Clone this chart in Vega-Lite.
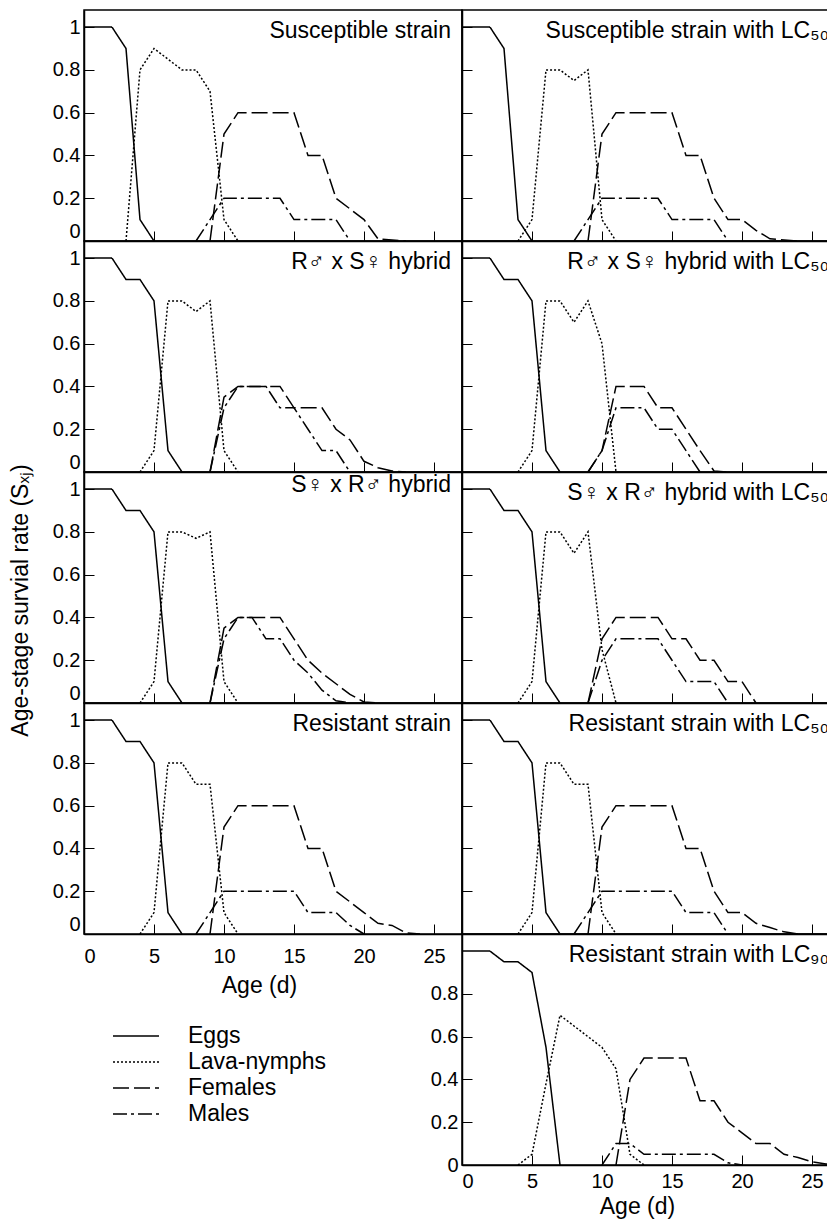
{
  "$schema": "https://vega.github.io/schema/vega-lite/v6.json",
  "padding": {"left": 8, "top": 9, "right": 0, "bottom": 0},
  "config": {
    "font": "Liberation Sans",
    "view": {"stroke": "black", "strokeWidth": 1.5},
    "axis": {"grid": false, "domainColor": "black", "domainWidth": 1.5, "tickColor": "black", "tickWidth": 1, "tickSize": -10, "labelColor": "black", "labelFontSize": 20, "labelFont": "Liberation Sans", "titleFont": "Liberation Sans", "titleFontSize": 23, "titleFontWeight": "normal", "titleColor": "black"},
    "title": {"anchor": "end", "frame": "group", "orient": "top", "fontSize": 23, "fontWeight": "normal", "color": "black", "baseline": "alphabetic", "offset": -33, "dx": -11, "font": "Liberation Sans"},
    "line": {"strokeWidth": 1.5, "color": "black"}
  },
  "datasets": {
    "d": [
      {"panel":1,"stage":"Eggs","age":0,"rate":1},{"panel":1,"stage":"Eggs","age":1,"rate":1},{"panel":1,"stage":"Eggs","age":2,"rate":1},{"panel":1,"stage":"Eggs","age":3,"rate":0.9},{"panel":1,"stage":"Eggs","age":4,"rate":0.1},{"panel":1,"stage":"Eggs","age":5,"rate":0},
      {"panel":1,"stage":"Lava-nymphs","age":3,"rate":0},{"panel":1,"stage":"Lava-nymphs","age":4,"rate":0.8},{"panel":1,"stage":"Lava-nymphs","age":5,"rate":0.9},{"panel":1,"stage":"Lava-nymphs","age":6,"rate":0.85},{"panel":1,"stage":"Lava-nymphs","age":7,"rate":0.8},{"panel":1,"stage":"Lava-nymphs","age":8,"rate":0.8},{"panel":1,"stage":"Lava-nymphs","age":9,"rate":0.7},{"panel":1,"stage":"Lava-nymphs","age":10,"rate":0.1},{"panel":1,"stage":"Lava-nymphs","age":11,"rate":0},
      {"panel":1,"stage":"Females","age":9,"rate":0},{"panel":1,"stage":"Females","age":10,"rate":0.5},{"panel":1,"stage":"Females","age":11,"rate":0.6},{"panel":1,"stage":"Females","age":12,"rate":0.6},{"panel":1,"stage":"Females","age":13,"rate":0.6},{"panel":1,"stage":"Females","age":14,"rate":0.6},{"panel":1,"stage":"Females","age":15,"rate":0.6},{"panel":1,"stage":"Females","age":16,"rate":0.4},{"panel":1,"stage":"Females","age":17,"rate":0.4},{"panel":1,"stage":"Females","age":18,"rate":0.2},{"panel":1,"stage":"Females","age":19,"rate":0.15},{"panel":1,"stage":"Females","age":20,"rate":0.1},{"panel":1,"stage":"Females","age":21,"rate":0.01},{"panel":1,"stage":"Females","age":22,"rate":0.005},{"panel":1,"stage":"Females","age":23,"rate":0},
      {"panel":1,"stage":"Males","age":8,"rate":0},{"panel":1,"stage":"Males","age":9,"rate":0.1},{"panel":1,"stage":"Males","age":10,"rate":0.2},{"panel":1,"stage":"Males","age":11,"rate":0.2},{"panel":1,"stage":"Males","age":12,"rate":0.2},{"panel":1,"stage":"Males","age":13,"rate":0.2},{"panel":1,"stage":"Males","age":14,"rate":0.2},{"panel":1,"stage":"Males","age":15,"rate":0.1},{"panel":1,"stage":"Males","age":16,"rate":0.1},{"panel":1,"stage":"Males","age":17,"rate":0.1},{"panel":1,"stage":"Males","age":18,"rate":0.1},{"panel":1,"stage":"Males","age":19,"rate":0},

      {"panel":2,"stage":"Eggs","age":0,"rate":1},{"panel":2,"stage":"Eggs","age":1,"rate":1},{"panel":2,"stage":"Eggs","age":2,"rate":1},{"panel":2,"stage":"Eggs","age":3,"rate":0.9},{"panel":2,"stage":"Eggs","age":4,"rate":0.1},{"panel":2,"stage":"Eggs","age":5,"rate":0},
      {"panel":2,"stage":"Lava-nymphs","age":4,"rate":0},{"panel":2,"stage":"Lava-nymphs","age":5,"rate":0.1},{"panel":2,"stage":"Lava-nymphs","age":6,"rate":0.8},{"panel":2,"stage":"Lava-nymphs","age":7,"rate":0.8},{"panel":2,"stage":"Lava-nymphs","age":8,"rate":0.75},{"panel":2,"stage":"Lava-nymphs","age":9,"rate":0.8},{"panel":2,"stage":"Lava-nymphs","age":10,"rate":0.1},{"panel":2,"stage":"Lava-nymphs","age":11,"rate":0},
      {"panel":2,"stage":"Females","age":9,"rate":0},{"panel":2,"stage":"Females","age":10,"rate":0.5},{"panel":2,"stage":"Females","age":11,"rate":0.6},{"panel":2,"stage":"Females","age":12,"rate":0.6},{"panel":2,"stage":"Females","age":13,"rate":0.6},{"panel":2,"stage":"Females","age":14,"rate":0.6},{"panel":2,"stage":"Females","age":15,"rate":0.6},{"panel":2,"stage":"Females","age":16,"rate":0.4},{"panel":2,"stage":"Females","age":17,"rate":0.4},{"panel":2,"stage":"Females","age":18,"rate":0.2},{"panel":2,"stage":"Females","age":19,"rate":0.1},{"panel":2,"stage":"Females","age":20,"rate":0.1},{"panel":2,"stage":"Females","age":21,"rate":0.05},{"panel":2,"stage":"Females","age":22,"rate":0.01},{"panel":2,"stage":"Females","age":23,"rate":0.005},{"panel":2,"stage":"Females","age":24,"rate":0},
      {"panel":2,"stage":"Males","age":8,"rate":0},{"panel":2,"stage":"Males","age":9,"rate":0.1},{"panel":2,"stage":"Males","age":10,"rate":0.2},{"panel":2,"stage":"Males","age":11,"rate":0.2},{"panel":2,"stage":"Males","age":12,"rate":0.2},{"panel":2,"stage":"Males","age":13,"rate":0.2},{"panel":2,"stage":"Males","age":14,"rate":0.2},{"panel":2,"stage":"Males","age":15,"rate":0.1},{"panel":2,"stage":"Males","age":16,"rate":0.1},{"panel":2,"stage":"Males","age":17,"rate":0.1},{"panel":2,"stage":"Males","age":18,"rate":0.1},{"panel":2,"stage":"Males","age":19,"rate":0},

      {"panel":3,"stage":"Eggs","age":0,"rate":1},{"panel":3,"stage":"Eggs","age":1,"rate":1},{"panel":3,"stage":"Eggs","age":2,"rate":1},{"panel":3,"stage":"Eggs","age":3,"rate":0.9},{"panel":3,"stage":"Eggs","age":4,"rate":0.9},{"panel":3,"stage":"Eggs","age":5,"rate":0.8},{"panel":3,"stage":"Eggs","age":6,"rate":0.1},{"panel":3,"stage":"Eggs","age":7,"rate":0},
      {"panel":3,"stage":"Lava-nymphs","age":4,"rate":0},{"panel":3,"stage":"Lava-nymphs","age":5,"rate":0.1},{"panel":3,"stage":"Lava-nymphs","age":6,"rate":0.8},{"panel":3,"stage":"Lava-nymphs","age":7,"rate":0.8},{"panel":3,"stage":"Lava-nymphs","age":8,"rate":0.75},{"panel":3,"stage":"Lava-nymphs","age":9,"rate":0.8},{"panel":3,"stage":"Lava-nymphs","age":10,"rate":0.1},{"panel":3,"stage":"Lava-nymphs","age":11,"rate":0},
      {"panel":3,"stage":"Females","age":9,"rate":0},{"panel":3,"stage":"Females","age":10,"rate":0.35},{"panel":3,"stage":"Females","age":11,"rate":0.4},{"panel":3,"stage":"Females","age":12,"rate":0.4},{"panel":3,"stage":"Females","age":13,"rate":0.4},{"panel":3,"stage":"Females","age":14,"rate":0.4},{"panel":3,"stage":"Females","age":15,"rate":0.3},{"panel":3,"stage":"Females","age":16,"rate":0.3},{"panel":3,"stage":"Females","age":17,"rate":0.3},{"panel":3,"stage":"Females","age":18,"rate":0.2},{"panel":3,"stage":"Females","age":19,"rate":0.15},{"panel":3,"stage":"Females","age":20,"rate":0.05},{"panel":3,"stage":"Females","age":21,"rate":0.02},{"panel":3,"stage":"Females","age":22,"rate":0.005},{"panel":3,"stage":"Females","age":23,"rate":0},
      {"panel":3,"stage":"Males","age":9,"rate":0},{"panel":3,"stage":"Males","age":10,"rate":0.3},{"panel":3,"stage":"Males","age":11,"rate":0.4},{"panel":3,"stage":"Males","age":12,"rate":0.4},{"panel":3,"stage":"Males","age":13,"rate":0.4},{"panel":3,"stage":"Males","age":14,"rate":0.3},{"panel":3,"stage":"Males","age":15,"rate":0.3},{"panel":3,"stage":"Males","age":16,"rate":0.2},{"panel":3,"stage":"Males","age":17,"rate":0.1},{"panel":3,"stage":"Males","age":18,"rate":0.1},{"panel":3,"stage":"Males","age":19,"rate":0},

      {"panel":4,"stage":"Eggs","age":0,"rate":1},{"panel":4,"stage":"Eggs","age":1,"rate":1},{"panel":4,"stage":"Eggs","age":2,"rate":1},{"panel":4,"stage":"Eggs","age":3,"rate":0.9},{"panel":4,"stage":"Eggs","age":4,"rate":0.9},{"panel":4,"stage":"Eggs","age":5,"rate":0.8},{"panel":4,"stage":"Eggs","age":6,"rate":0.1},{"panel":4,"stage":"Eggs","age":7,"rate":0},
      {"panel":4,"stage":"Lava-nymphs","age":4,"rate":0},{"panel":4,"stage":"Lava-nymphs","age":5,"rate":0.1},{"panel":4,"stage":"Lava-nymphs","age":6,"rate":0.8},{"panel":4,"stage":"Lava-nymphs","age":7,"rate":0.8},{"panel":4,"stage":"Lava-nymphs","age":8,"rate":0.7},{"panel":4,"stage":"Lava-nymphs","age":9,"rate":0.8},{"panel":4,"stage":"Lava-nymphs","age":10,"rate":0.6},{"panel":4,"stage":"Lava-nymphs","age":11,"rate":0},
      {"panel":4,"stage":"Females","age":9,"rate":0},{"panel":4,"stage":"Females","age":10,"rate":0.1},{"panel":4,"stage":"Females","age":11,"rate":0.4},{"panel":4,"stage":"Females","age":12,"rate":0.4},{"panel":4,"stage":"Females","age":13,"rate":0.4},{"panel":4,"stage":"Females","age":14,"rate":0.3},{"panel":4,"stage":"Females","age":15,"rate":0.3},{"panel":4,"stage":"Females","age":16,"rate":0.2},{"panel":4,"stage":"Females","age":17,"rate":0.1},{"panel":4,"stage":"Females","age":18,"rate":0.005},{"panel":4,"stage":"Females","age":19,"rate":0},
      {"panel":4,"stage":"Males","age":9,"rate":0},{"panel":4,"stage":"Males","age":10,"rate":0.1},{"panel":4,"stage":"Males","age":11,"rate":0.3},{"panel":4,"stage":"Males","age":12,"rate":0.3},{"panel":4,"stage":"Males","age":13,"rate":0.3},{"panel":4,"stage":"Males","age":14,"rate":0.2},{"panel":4,"stage":"Males","age":15,"rate":0.2},{"panel":4,"stage":"Males","age":16,"rate":0.1},{"panel":4,"stage":"Males","age":17,"rate":0},

      {"panel":5,"stage":"Eggs","age":0,"rate":1},{"panel":5,"stage":"Eggs","age":1,"rate":1},{"panel":5,"stage":"Eggs","age":2,"rate":1},{"panel":5,"stage":"Eggs","age":3,"rate":0.9},{"panel":5,"stage":"Eggs","age":4,"rate":0.9},{"panel":5,"stage":"Eggs","age":5,"rate":0.8},{"panel":5,"stage":"Eggs","age":6,"rate":0.1},{"panel":5,"stage":"Eggs","age":7,"rate":0},
      {"panel":5,"stage":"Lava-nymphs","age":4,"rate":0},{"panel":5,"stage":"Lava-nymphs","age":5,"rate":0.1},{"panel":5,"stage":"Lava-nymphs","age":6,"rate":0.8},{"panel":5,"stage":"Lava-nymphs","age":7,"rate":0.8},{"panel":5,"stage":"Lava-nymphs","age":8,"rate":0.77},{"panel":5,"stage":"Lava-nymphs","age":9,"rate":0.8},{"panel":5,"stage":"Lava-nymphs","age":10,"rate":0.1},{"panel":5,"stage":"Lava-nymphs","age":11,"rate":0},
      {"panel":5,"stage":"Females","age":9,"rate":0},{"panel":5,"stage":"Females","age":10,"rate":0.35},{"panel":5,"stage":"Females","age":11,"rate":0.4},{"panel":5,"stage":"Females","age":12,"rate":0.4},{"panel":5,"stage":"Females","age":13,"rate":0.4},{"panel":5,"stage":"Females","age":14,"rate":0.4},{"panel":5,"stage":"Females","age":15,"rate":0.3},{"panel":5,"stage":"Females","age":16,"rate":0.2},{"panel":5,"stage":"Females","age":17,"rate":0.14},{"panel":5,"stage":"Females","age":18,"rate":0.09},{"panel":5,"stage":"Females","age":19,"rate":0.04},{"panel":5,"stage":"Females","age":20,"rate":0.005},{"panel":5,"stage":"Females","age":21,"rate":0},
      {"panel":5,"stage":"Males","age":9,"rate":0},{"panel":5,"stage":"Males","age":10,"rate":0.3},{"panel":5,"stage":"Males","age":11,"rate":0.4},{"panel":5,"stage":"Males","age":12,"rate":0.4},{"panel":5,"stage":"Males","age":13,"rate":0.3},{"panel":5,"stage":"Males","age":14,"rate":0.3},{"panel":5,"stage":"Males","age":15,"rate":0.2},{"panel":5,"stage":"Males","age":16,"rate":0.14},{"panel":5,"stage":"Males","age":17,"rate":0.06},{"panel":5,"stage":"Males","age":18,"rate":0.01},{"panel":5,"stage":"Males","age":19,"rate":0},

      {"panel":6,"stage":"Eggs","age":0,"rate":1},{"panel":6,"stage":"Eggs","age":1,"rate":1},{"panel":6,"stage":"Eggs","age":2,"rate":1},{"panel":6,"stage":"Eggs","age":3,"rate":0.9},{"panel":6,"stage":"Eggs","age":4,"rate":0.9},{"panel":6,"stage":"Eggs","age":5,"rate":0.8},{"panel":6,"stage":"Eggs","age":6,"rate":0.1},{"panel":6,"stage":"Eggs","age":7,"rate":0},
      {"panel":6,"stage":"Lava-nymphs","age":4,"rate":0},{"panel":6,"stage":"Lava-nymphs","age":5,"rate":0.1},{"panel":6,"stage":"Lava-nymphs","age":6,"rate":0.8},{"panel":6,"stage":"Lava-nymphs","age":7,"rate":0.8},{"panel":6,"stage":"Lava-nymphs","age":8,"rate":0.7},{"panel":6,"stage":"Lava-nymphs","age":9,"rate":0.8},{"panel":6,"stage":"Lava-nymphs","age":10,"rate":0.25},{"panel":6,"stage":"Lava-nymphs","age":11,"rate":0},
      {"panel":6,"stage":"Females","age":9,"rate":0},{"panel":6,"stage":"Females","age":10,"rate":0.3},{"panel":6,"stage":"Females","age":11,"rate":0.4},{"panel":6,"stage":"Females","age":12,"rate":0.4},{"panel":6,"stage":"Females","age":13,"rate":0.4},{"panel":6,"stage":"Females","age":14,"rate":0.4},{"panel":6,"stage":"Females","age":15,"rate":0.3},{"panel":6,"stage":"Females","age":16,"rate":0.3},{"panel":6,"stage":"Females","age":17,"rate":0.2},{"panel":6,"stage":"Females","age":18,"rate":0.2},{"panel":6,"stage":"Females","age":19,"rate":0.1},{"panel":6,"stage":"Females","age":20,"rate":0.1},{"panel":6,"stage":"Females","age":21,"rate":0},
      {"panel":6,"stage":"Males","age":9,"rate":0},{"panel":6,"stage":"Males","age":10,"rate":0.2},{"panel":6,"stage":"Males","age":11,"rate":0.3},{"panel":6,"stage":"Males","age":12,"rate":0.3},{"panel":6,"stage":"Males","age":13,"rate":0.3},{"panel":6,"stage":"Males","age":14,"rate":0.3},{"panel":6,"stage":"Males","age":15,"rate":0.2},{"panel":6,"stage":"Males","age":16,"rate":0.1},{"panel":6,"stage":"Males","age":17,"rate":0.1},{"panel":6,"stage":"Males","age":18,"rate":0.1},{"panel":6,"stage":"Males","age":19,"rate":0},

      {"panel":7,"stage":"Eggs","age":0,"rate":1},{"panel":7,"stage":"Eggs","age":1,"rate":1},{"panel":7,"stage":"Eggs","age":2,"rate":1},{"panel":7,"stage":"Eggs","age":3,"rate":0.9},{"panel":7,"stage":"Eggs","age":4,"rate":0.9},{"panel":7,"stage":"Eggs","age":5,"rate":0.8},{"panel":7,"stage":"Eggs","age":6,"rate":0.1},{"panel":7,"stage":"Eggs","age":7,"rate":0},
      {"panel":7,"stage":"Lava-nymphs","age":4,"rate":0},{"panel":7,"stage":"Lava-nymphs","age":5,"rate":0.1},{"panel":7,"stage":"Lava-nymphs","age":6,"rate":0.8},{"panel":7,"stage":"Lava-nymphs","age":7,"rate":0.8},{"panel":7,"stage":"Lava-nymphs","age":8,"rate":0.7},{"panel":7,"stage":"Lava-nymphs","age":9,"rate":0.7},{"panel":7,"stage":"Lava-nymphs","age":10,"rate":0.1},{"panel":7,"stage":"Lava-nymphs","age":11,"rate":0},
      {"panel":7,"stage":"Females","age":9,"rate":0},{"panel":7,"stage":"Females","age":10,"rate":0.5},{"panel":7,"stage":"Females","age":11,"rate":0.6},{"panel":7,"stage":"Females","age":12,"rate":0.6},{"panel":7,"stage":"Females","age":13,"rate":0.6},{"panel":7,"stage":"Females","age":14,"rate":0.6},{"panel":7,"stage":"Females","age":15,"rate":0.6},{"panel":7,"stage":"Females","age":16,"rate":0.4},{"panel":7,"stage":"Females","age":17,"rate":0.4},{"panel":7,"stage":"Females","age":18,"rate":0.2},{"panel":7,"stage":"Females","age":19,"rate":0.15},{"panel":7,"stage":"Females","age":20,"rate":0.1},{"panel":7,"stage":"Females","age":21,"rate":0.05},{"panel":7,"stage":"Females","age":22,"rate":0.04},{"panel":7,"stage":"Females","age":23,"rate":0.005},{"panel":7,"stage":"Females","age":24,"rate":0},
      {"panel":7,"stage":"Males","age":8,"rate":0},{"panel":7,"stage":"Males","age":9,"rate":0.1},{"panel":7,"stage":"Males","age":10,"rate":0.2},{"panel":7,"stage":"Males","age":11,"rate":0.2},{"panel":7,"stage":"Males","age":12,"rate":0.2},{"panel":7,"stage":"Males","age":13,"rate":0.2},{"panel":7,"stage":"Males","age":14,"rate":0.2},{"panel":7,"stage":"Males","age":15,"rate":0.2},{"panel":7,"stage":"Males","age":16,"rate":0.1},{"panel":7,"stage":"Males","age":17,"rate":0.1},{"panel":7,"stage":"Males","age":18,"rate":0.1},{"panel":7,"stage":"Males","age":19,"rate":0.04},{"panel":7,"stage":"Males","age":20,"rate":0},

      {"panel":8,"stage":"Eggs","age":0,"rate":1},{"panel":8,"stage":"Eggs","age":1,"rate":1},{"panel":8,"stage":"Eggs","age":2,"rate":1},{"panel":8,"stage":"Eggs","age":3,"rate":0.9},{"panel":8,"stage":"Eggs","age":4,"rate":0.9},{"panel":8,"stage":"Eggs","age":5,"rate":0.8},{"panel":8,"stage":"Eggs","age":6,"rate":0.1},{"panel":8,"stage":"Eggs","age":7,"rate":0},
      {"panel":8,"stage":"Lava-nymphs","age":4,"rate":0},{"panel":8,"stage":"Lava-nymphs","age":5,"rate":0.1},{"panel":8,"stage":"Lava-nymphs","age":6,"rate":0.8},{"panel":8,"stage":"Lava-nymphs","age":7,"rate":0.8},{"panel":8,"stage":"Lava-nymphs","age":8,"rate":0.7},{"panel":8,"stage":"Lava-nymphs","age":9,"rate":0.7},{"panel":8,"stage":"Lava-nymphs","age":10,"rate":0.1},{"panel":8,"stage":"Lava-nymphs","age":11,"rate":0},
      {"panel":8,"stage":"Females","age":9,"rate":0},{"panel":8,"stage":"Females","age":10,"rate":0.5},{"panel":8,"stage":"Females","age":11,"rate":0.6},{"panel":8,"stage":"Females","age":12,"rate":0.6},{"panel":8,"stage":"Females","age":13,"rate":0.6},{"panel":8,"stage":"Females","age":14,"rate":0.6},{"panel":8,"stage":"Females","age":15,"rate":0.6},{"panel":8,"stage":"Females","age":16,"rate":0.4},{"panel":8,"stage":"Females","age":17,"rate":0.4},{"panel":8,"stage":"Females","age":18,"rate":0.2},{"panel":8,"stage":"Females","age":19,"rate":0.1},{"panel":8,"stage":"Females","age":20,"rate":0.1},{"panel":8,"stage":"Females","age":21,"rate":0.05},{"panel":8,"stage":"Females","age":22,"rate":0.03},{"panel":8,"stage":"Females","age":23,"rate":0.01},{"panel":8,"stage":"Females","age":24,"rate":0},
      {"panel":8,"stage":"Males","age":8,"rate":0},{"panel":8,"stage":"Males","age":9,"rate":0.1},{"panel":8,"stage":"Males","age":10,"rate":0.2},{"panel":8,"stage":"Males","age":11,"rate":0.2},{"panel":8,"stage":"Males","age":12,"rate":0.2},{"panel":8,"stage":"Males","age":13,"rate":0.2},{"panel":8,"stage":"Males","age":14,"rate":0.2},{"panel":8,"stage":"Males","age":15,"rate":0.2},{"panel":8,"stage":"Males","age":16,"rate":0.1},{"panel":8,"stage":"Males","age":17,"rate":0.1},{"panel":8,"stage":"Males","age":18,"rate":0.1},{"panel":8,"stage":"Males","age":19,"rate":0},

      {"panel":9,"stage":"Eggs","age":0,"rate":1},{"panel":9,"stage":"Eggs","age":1,"rate":1},{"panel":9,"stage":"Eggs","age":2,"rate":1},{"panel":9,"stage":"Eggs","age":3,"rate":0.95},{"panel":9,"stage":"Eggs","age":4,"rate":0.95},{"panel":9,"stage":"Eggs","age":5,"rate":0.9},{"panel":9,"stage":"Eggs","age":6,"rate":0.55},{"panel":9,"stage":"Eggs","age":7,"rate":0},
      {"panel":9,"stage":"Lava-nymphs","age":4,"rate":0},{"panel":9,"stage":"Lava-nymphs","age":5,"rate":0.05},{"panel":9,"stage":"Lava-nymphs","age":6,"rate":0.38},{"panel":9,"stage":"Lava-nymphs","age":7,"rate":0.7},{"panel":9,"stage":"Lava-nymphs","age":8,"rate":0.65},{"panel":9,"stage":"Lava-nymphs","age":9,"rate":0.6},{"panel":9,"stage":"Lava-nymphs","age":10,"rate":0.55},{"panel":9,"stage":"Lava-nymphs","age":11,"rate":0.45},{"panel":9,"stage":"Lava-nymphs","age":12,"rate":0.05},{"panel":9,"stage":"Lava-nymphs","age":13,"rate":0},
      {"panel":9,"stage":"Females","age":11,"rate":0},{"panel":9,"stage":"Females","age":12,"rate":0.4},{"panel":9,"stage":"Females","age":13,"rate":0.5},{"panel":9,"stage":"Females","age":14,"rate":0.5},{"panel":9,"stage":"Females","age":15,"rate":0.5},{"panel":9,"stage":"Females","age":16,"rate":0.5},{"panel":9,"stage":"Females","age":17,"rate":0.3},{"panel":9,"stage":"Females","age":18,"rate":0.3},{"panel":9,"stage":"Females","age":19,"rate":0.2},{"panel":9,"stage":"Females","age":20,"rate":0.15},{"panel":9,"stage":"Females","age":21,"rate":0.1},{"panel":9,"stage":"Females","age":22,"rate":0.1},{"panel":9,"stage":"Females","age":23,"rate":0.05},{"panel":9,"stage":"Females","age":24,"rate":0.035},{"panel":9,"stage":"Females","age":25,"rate":0.015},{"panel":9,"stage":"Females","age":26,"rate":0.005},{"panel":9,"stage":"Females","age":27,"rate":0},
      {"panel":9,"stage":"Males","age":10,"rate":0},{"panel":9,"stage":"Males","age":11,"rate":0.1},{"panel":9,"stage":"Males","age":12,"rate":0.1},{"panel":9,"stage":"Males","age":13,"rate":0.05},{"panel":9,"stage":"Males","age":14,"rate":0.05},{"panel":9,"stage":"Males","age":15,"rate":0.05},{"panel":9,"stage":"Males","age":16,"rate":0.05},{"panel":9,"stage":"Males","age":17,"rate":0.05},{"panel":9,"stage":"Males","age":18,"rate":0.05},{"panel":9,"stage":"Males","age":19,"rate":0.01},{"panel":9,"stage":"Males","age":20,"rate":0}
    ]
  },
  "columns": 2,
  "spacing": 0,
  "bounds": "flush",
  "resolve": {"scale": {"strokeDash": "independent"}, "legend": {"strokeDash": "independent"}},
  "concat": [
    {
      "width": 378, "height": 231, "title": "Susceptible strain",
      "data": {"name": "d"}, "transform": [{"filter": "datum.panel == 1"}],
      "mark": "line",
      "encoding": {
        "x": {"field": "age", "type": "quantitative", "scale": {"domain": [0, 27], "nice": false, "zero": false}, "axis": {"values": [0, 5, 10, 15, 20, 25], "labels": false, "title": null}},
        "y": {"field": "rate", "type": "quantitative", "scale": {"domain": [0, 1.08], "nice": false}, "axis": {"values": [0, 0.2, 0.4, 0.6, 0.8, 1], "format": "~g", "labelFlush": true, "labelPadding": 14, "title": null}},
        "strokeDash": {"field": "stage", "type": "nominal", "scale": {"domain": ["Eggs", "Lava-nymphs", "Females", "Males"], "range": [[1, 0], [2, 2], [16, 5], [14, 4, 3, 4]]}, "legend": null}
      }
    },
    {
      "width": 378, "height": 231, "title": "Susceptible strain with LC₅₀",
      "data": {"name": "d"}, "transform": [{"filter": "datum.panel == 2"}],
      "mark": "line",
      "encoding": {
        "x": {"field": "age", "type": "quantitative", "scale": {"domain": [0, 27], "nice": false, "zero": false}, "axis": {"values": [0, 5, 10, 15, 20, 25], "labels": false, "title": null}},
        "y": {"field": "rate", "type": "quantitative", "scale": {"domain": [0, 1.08], "nice": false}, "axis": {"values": [0.2, 0.4, 0.6, 0.8, 1], "labels": false, "title": null}},
        "strokeDash": {"field": "stage", "type": "nominal", "scale": {"domain": ["Eggs", "Lava-nymphs", "Females", "Males"], "range": [[1, 0], [2, 2], [16, 5], [14, 4, 3, 4]]}, "legend": null}
      }
    },
    {
      "width": 378, "height": 231, "title": "R♂ x S♀ hybrid",
      "data": {"name": "d"}, "transform": [{"filter": "datum.panel == 3"}],
      "mark": "line",
      "encoding": {
        "x": {"field": "age", "type": "quantitative", "scale": {"domain": [0, 27], "nice": false, "zero": false}, "axis": {"values": [0, 5, 10, 15, 20, 25], "labels": false, "title": null}},
        "y": {"field": "rate", "type": "quantitative", "scale": {"domain": [0, 1.08], "nice": false}, "axis": {"values": [0, 0.2, 0.4, 0.6, 0.8, 1], "format": "~g", "labelFlush": true, "labelPadding": 14, "title": null}},
        "strokeDash": {"field": "stage", "type": "nominal", "scale": {"domain": ["Eggs", "Lava-nymphs", "Females", "Males"], "range": [[1, 0], [2, 2], [16, 5], [14, 4, 3, 4]]}, "legend": null}
      }
    },
    {
      "width": 378, "height": 231, "title": "R♂ x S♀ hybrid with LC₅₀",
      "data": {"name": "d"}, "transform": [{"filter": "datum.panel == 4"}],
      "mark": "line",
      "encoding": {
        "x": {"field": "age", "type": "quantitative", "scale": {"domain": [0, 27], "nice": false, "zero": false}, "axis": {"values": [0, 5, 10, 15, 20, 25], "labels": false, "title": null}},
        "y": {"field": "rate", "type": "quantitative", "scale": {"domain": [0, 1.08], "nice": false}, "axis": {"values": [0.2, 0.4, 0.6, 0.8, 1], "labels": false, "title": null}},
        "strokeDash": {"field": "stage", "type": "nominal", "scale": {"domain": ["Eggs", "Lava-nymphs", "Females", "Males"], "range": [[1, 0], [2, 2], [16, 5], [14, 4, 3, 4]]}, "legend": null}
      }
    },
    {
      "width": 378, "height": 231, "title": "S♀ x R♂ hybrid",
      "data": {"name": "d"}, "transform": [{"filter": "datum.panel == 5"}],
      "mark": "line",
      "encoding": {
        "x": {"field": "age", "type": "quantitative", "scale": {"domain": [0, 27], "nice": false, "zero": false}, "axis": {"values": [0, 5, 10, 15, 20, 25], "labels": false, "title": null}},
        "y": {"field": "rate", "type": "quantitative", "scale": {"domain": [0, 1.08], "nice": false}, "axis": {"values": [0, 0.2, 0.4, 0.6, 0.8, 1], "format": "~g", "labelFlush": true, "labelPadding": 14, "title": "Age-stage survial rate (Sₓⱼ)", "titleX": -64, "titleY": 128, "titleBaseline": "middle", "titleAlign": "center", "titleAngle": -90}},
        "strokeDash": {"field": "stage", "type": "nominal", "scale": {"domain": ["Eggs", "Lava-nymphs", "Females", "Males"], "range": [[1, 0], [2, 2], [16, 5], [14, 4, 3, 4]]}, "legend": null}
      }
    },
    {
      "width": 378, "height": 231, "title": "S♀ x R♂ hybrid with LC₅₀",
      "data": {"name": "d"}, "transform": [{"filter": "datum.panel == 6"}],
      "mark": "line",
      "encoding": {
        "x": {"field": "age", "type": "quantitative", "scale": {"domain": [0, 27], "nice": false, "zero": false}, "axis": {"values": [0, 5, 10, 15, 20, 25], "labels": false, "title": null}},
        "y": {"field": "rate", "type": "quantitative", "scale": {"domain": [0, 1.08], "nice": false}, "axis": {"values": [0.2, 0.4, 0.6, 0.8, 1], "labels": false, "title": null}},
        "strokeDash": {"field": "stage", "type": "nominal", "scale": {"domain": ["Eggs", "Lava-nymphs", "Females", "Males"], "range": [[1, 0], [2, 2], [16, 5], [14, 4, 3, 4]]}, "legend": null}
      }
    },
    {
      "width": 378, "height": 231, "title": "Resistant strain",
      "data": {"name": "d"}, "transform": [{"filter": "datum.panel == 7"}],
      "mark": "line",
      "encoding": {
        "x": {"field": "age", "type": "quantitative", "scale": {"domain": [0, 27], "nice": false, "zero": false}, "axis": {"values": [0, 5, 10, 15, 20, 25], "format": "d", "labelPadding": 22, "title": "Age (d)", "titleX": 175, "titleY": 58, "titleBaseline": "alphabetic", "titleAlign": "center"}},
        "y": {"field": "rate", "type": "quantitative", "scale": {"domain": [0, 1.08], "nice": false}, "axis": {"values": [0, 0.2, 0.4, 0.6, 0.8, 1], "format": "~g", "labelFlush": true, "labelPadding": 14, "title": null}},
        "strokeDash": {"field": "stage", "type": "nominal", "scale": {"domain": ["Eggs", "Lava-nymphs", "Females", "Males"], "range": [[1, 0], [2, 2], [16, 5], [14, 4, 3, 4]]}, "legend": null}
      }
    },
    {
      "width": 378, "height": 231, "title": "Resistant strain with LC₅₀",
      "data": {"name": "d"}, "transform": [{"filter": "datum.panel == 8"}],
      "mark": "line",
      "encoding": {
        "x": {"field": "age", "type": "quantitative", "scale": {"domain": [0, 27], "nice": false, "zero": false}, "axis": {"values": [0, 5, 10, 15, 20, 25], "labels": false, "title": null}},
        "y": {"field": "rate", "type": "quantitative", "scale": {"domain": [0, 1.08], "nice": false}, "axis": {"values": [0.2, 0.4, 0.6, 0.8, 1], "labels": false, "title": null}},
        "strokeDash": {"field": "stage", "type": "nominal", "scale": {"domain": ["Eggs", "Lava-nymphs", "Females", "Males"], "range": [[1, 0], [2, 2], [16, 5], [14, 4, 3, 4]]}, "legend": null}
      }
    },
    {
      "width": 378, "height": 231,
      "view": {"stroke": null},
      "data": {"name": "d"}, "transform": [{"filter": "datum.panel == 0"}],
      "mark": "line",
      "encoding": {
        "x": {"field": "age", "type": "quantitative", "scale": {"domain": [0, 27], "nice": false, "zero": false}, "axis": null},
        "y": {"field": "rate", "type": "quantitative", "scale": {"domain": [0, 1.08], "nice": false}, "axis": null},
        "strokeDash": {"field": "stage", "type": "nominal", "scale": {"domain": ["Eggs", "Lava-nymphs", "Females", "Males"], "range": [[1, 0], [2, 2], [16, 5], [14, 4, 3, 4]]},
          "legend": {"orient": "none", "legendX": 28, "legendY": 89, "title": null, "padding": 0, "symbolType": "stroke", "symbolSize": 2116, "symbolStrokeWidth": 1.5, "symbolStrokeColor": "black", "labelFontSize": 23, "labelFont": "Liberation Sans", "labelColor": "black", "labelOffset": 28, "clipHeight": 26, "rowPadding": 0}}
      }
    },
    {
      "width": 378, "height": 231, "title": "Resistant strain with LC₉₀",
      "data": {"name": "d"}, "transform": [{"filter": "datum.panel == 9"}],
      "mark": "line",
      "encoding": {
        "x": {"field": "age", "type": "quantitative", "scale": {"domain": [0, 27], "nice": false, "zero": false}, "axis": {"values": [0, 5, 10, 15, 20, 25], "format": "d", "labelFlush": true, "labelPadding": 16, "title": "Age (d)", "titleX": 175, "titleY": 48, "titleBaseline": "alphabetic", "titleAlign": "center"}},
        "y": {"field": "rate", "type": "quantitative", "scale": {"domain": [0, 1.08], "nice": false}, "axis": {"values": [0, 0.2, 0.4, 0.6, 0.8], "format": "~g", "labelPadding": 14, "title": null}},
        "strokeDash": {"field": "stage", "type": "nominal", "scale": {"domain": ["Eggs", "Lava-nymphs", "Females", "Males"], "range": [[1, 0], [2, 2], [16, 5], [14, 4, 3, 4]]}, "legend": null}
      }
    }
  ]
}
